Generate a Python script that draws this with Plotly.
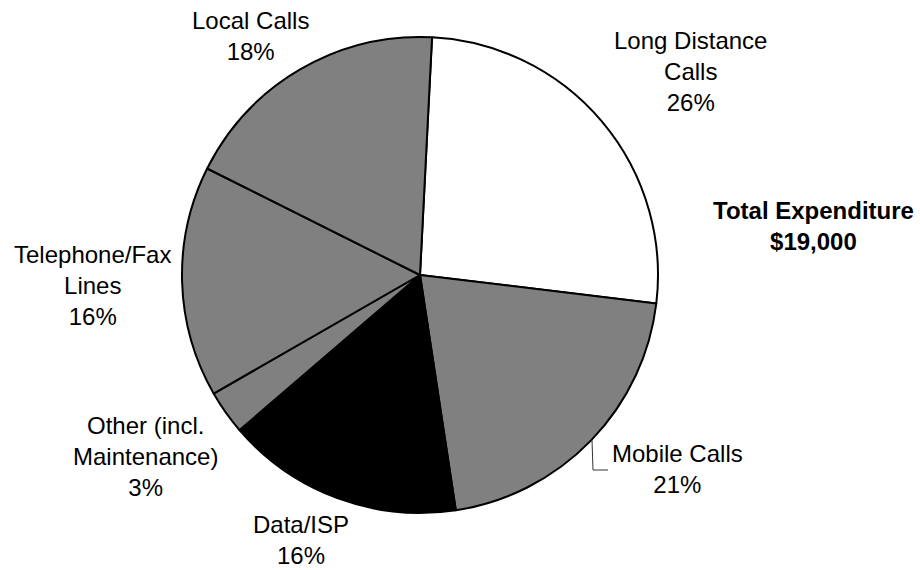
import plotly.graph_objects as go

# expenditure by category (dollars), clockwise from 12 o'clock
labels = ["Long Distance Calls", "Mobile Calls", "Data/ISP",
          "Other (incl. Maintenance)", "Telephone/Fax Lines", "Local Calls"]
label_text = ["Long Distance<br>Calls", "Mobile Calls", "Data/ISP",
              "Other (incl.<br>Maintenance)", "Telephone/Fax<br>Lines", "Local Calls"]
values = [4960, 3930, 3060, 570, 2980, 3500]
colors = ["#FFFFFF", "#808080", "#000000", "#808080", "#808080", "#808080"]

W, H = 920, 570
total = sum(values)

fig = go.Figure(go.Pie(
    labels=labels,
    values=values,
    sort=False,
    direction="clockwise",
    rotation=2.9,
    textinfo="none",
    hoverinfo="label+percent",
    marker=dict(colors=colors, line=dict(color="black", width=2)),
    domain=dict(x=[182 / W, 658 / W], y=[1 - 513 / H, 1 - 37 / H]),
    showlegend=False,
))

# label centres in pixels (x from left, y from top)
label_pos = [(690, 72), (677, 469), (301, 540), (145, 456), (92, 285), (251, 36)]

for txt, v, (px, py) in zip(label_text, values, label_pos):
    pct = round(v / total * 100)
    fig.add_annotation(text=f"{txt}<br>{pct}%", x=px / W, y=1 - py / H,
                       xref="paper", yref="paper", showarrow=False,
                       xanchor="center", yanchor="middle",
                       font=dict(size=24, color="black"))

# total expenditure
fig.add_annotation(text=f"<b>Total Expenditure<br>${total:,}</b>",
                   x=813 / W, y=1 - 226 / H, xref="paper", yref="paper",
                   showarrow=False, xanchor="center", yanchor="middle",
                   font=dict(size=24, color="black"))

# leader line for Mobile Calls
fig.add_shape(type="path", xref="paper", yref="paper",
              path=f"M {592 / W} {1 - 440 / H} L {593 / W} {1 - 470 / H} L {608 / W} {1 - 470 / H}",
              line=dict(color="#333333", width=1))

fig.update_layout(width=W, height=H,
                  margin=dict(l=0, r=0, t=0, b=0),
                  paper_bgcolor="white", plot_bgcolor="white",
                  font=dict(family="Liberation Sans, Arial, sans-serif", color="black"))

# drop the default page margin so the figure fills the window
fig.write_html("out.html", config={"displayModeBar": False},
               post_script="document.body.style.margin='0';")
